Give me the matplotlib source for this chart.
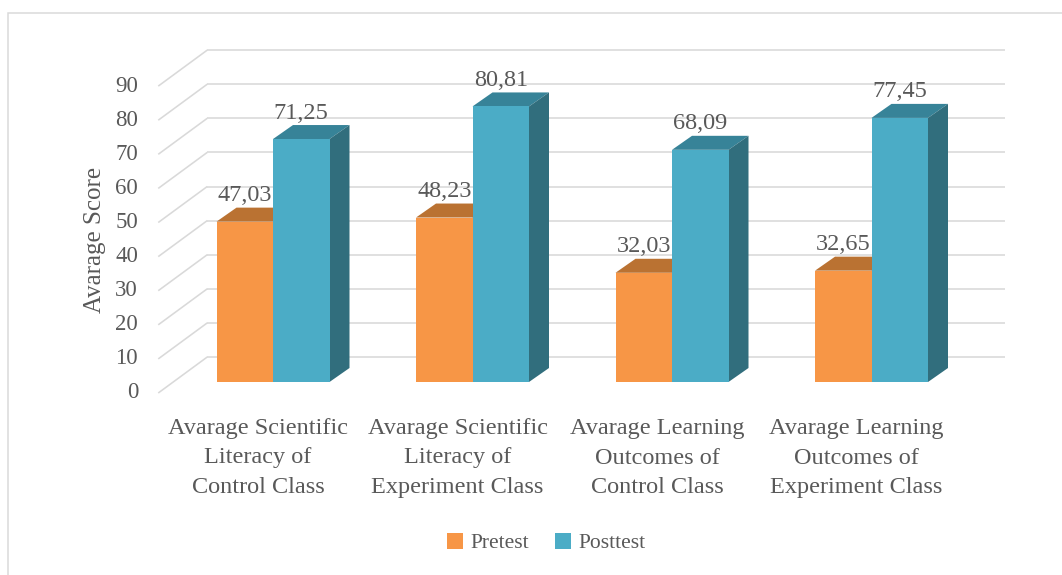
import matplotlib
matplotlib.use("Agg")
import matplotlib.pyplot as plt
from matplotlib.patches import Polygon, Rectangle, Patch

# ---------------- data ----------------
categories = [
    "Avarage Scientific\nLiteracy of\nControl Class",
    "Avarage Scientific\nLiteracy of\nExperiment Class",
    "Avarage Learning\nOutcomes of\nControl Class",
    "Avarage Learning\nOutcomes of\nExperiment Class",
]
series_names = ["Pretest", "Posttest"]
pretest = [47.03, 48.23, 32.03, 32.65]
posttest = [71.25, 80.81, 68.09, 77.45]
y_ticks = [0, 10, 20, 30, 40, 50, 60, 70, 80, 90]
y_label = "Avarage Score"

# ---------------- style ----------------
FONT = ["Liberation Serif", "DejaVu Serif"]
TXT = "#595959"
GRID = "#D9D9D9"
c_front = ["#F79646", "#4BACC6"]
c_top = ["#BA7232", "#378398"]
c_side = ["#A8652B", "#316E7D"]

W, H = 1062, 575
fig = plt.figure(figsize=(W / 100, H / 100), dpi=100)
ax = fig.add_axes([0, 0, 1, 1])
px_cat, px_val = 199.5, 3.41     # pixels per category unit / per value unit
x0, y0 = 273, 382                # pixel position of category 0 / value 0 (bar front plane)
ax.set_xlim(-x0 / px_cat, (W - x0) / px_cat)
ax.set_ylim((y0 - H) / px_val, y0 / px_val)
ax.axis("off")

# projection offsets (data units)
bar_d = (20 / px_cat, 14 / px_val)
back = (34 / px_cat, 25 / px_val)
front = (-15 / px_cat, -11 / px_val)
n = len(categories)
xl, xr = -0.5, n - 0.5
lw_grid = 1.6 * 0.72

# gridlines on back wall + left side wall
for v in y_ticks:
    ax.plot([xl + back[0], xr + back[0]], [v + back[1]] * 2, color=GRID, lw=lw_grid,
            zorder=1, solid_capstyle="butt")
    ax.plot([xl + back[0], xl + front[0]], [v + back[1], v + front[1]], color=GRID,
            lw=lw_grid, zorder=1, solid_capstyle="butt")
    ax.text(-135 / px_cat, v + front[1], str(v), ha="right", va="center",
            fontsize=16.5, color=TXT, family=FONT)

# bars
bw = 56.5 / px_cat
xs = list(range(n))
for s, vals in enumerate([pretest, posttest]):
    lefts = [x - bw + s * bw for x in xs]
    base_z = 2 + 3 * s
    for xlft, h in zip(lefts, vals):
        top = Polygon([(xlft, h), (xlft + bw, h), (xlft + bw + bar_d[0], h + bar_d[1]),
                       (xlft + bar_d[0], h + bar_d[1])], closed=True,
                      facecolor=c_top[s], edgecolor="none", zorder=base_z)
        side = Polygon([(xlft + bw, 0), (xlft + bw + bar_d[0], bar_d[1]),
                        (xlft + bw + bar_d[0], h + bar_d[1]), (xlft + bw, h)], closed=True,
                       facecolor=c_side[s], edgecolor="none", zorder=base_z)
        ax.add_patch(top)
        ax.add_patch(side)
    ax.bar(lefts, vals, width=bw, align="edge", color=c_front[s], edgecolor="none",
           zorder=base_z + 1)
    for xlft, h in zip(lefts, vals):
        ax.text(xlft + bw / 2, h + bar_d[1] + 12.0 / px_val, f"{h:.2f}".replace(".", ","),
                ha="center", va="center", fontsize=17.5, color=TXT, family=FONT, zorder=10)

# category labels
for x, lab in zip(xs, categories):
    ax.text(x + front[0], (y0 - 458) / px_val, lab, ha="center", va="center",
            fontsize=17.5, color=TXT, family=FONT, linespacing=1.55)

# y axis title
ax.text((95 - x0) / px_cat, (y0 - 240) / px_val, y_label, rotation=90, ha="center",
        va="center", fontsize=18, color=TXT, family=FONT)

# legend
handles = [Patch(facecolor=c_front[i], edgecolor="none", label=series_names[i])
           for i in range(2)]
fig.legend(handles=handles, loc="center", bbox_to_anchor=(546 / W, 1 - 543 / H),
           ncol=2, frameon=False, handlelength=0.75, handleheight=0.75,
           handletextpad=0.35, columnspacing=1.2,
           prop={"family": FONT, "size": 15.5}, labelcolor=TXT)

# chart border (top/left visible)
fig.patches.append(Rectangle((8 / W, -0.2), 1.2, 1.2 - 13 / H, transform=fig.transFigure,
                             fill=False, edgecolor=GRID, lw=1.5 * 0.72, zorder=0))

fig.savefig("out.png", dpi=100, facecolor="white")
